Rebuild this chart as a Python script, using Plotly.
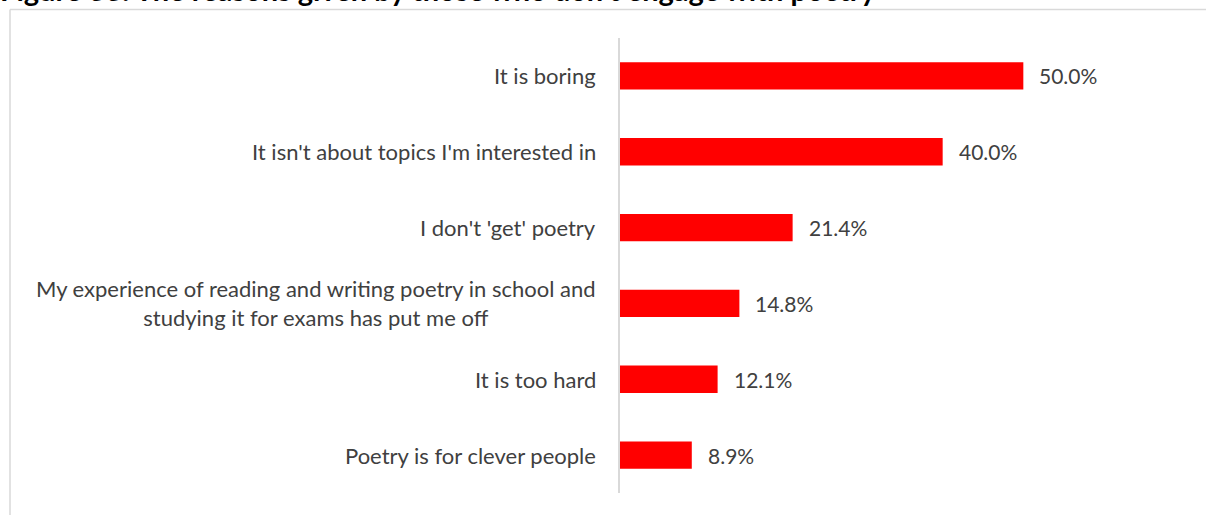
import plotly.graph_objects as go

# Survey data: reasons for not engaging with poetry (% of respondents)
reasons = [
    "It is boring",
    "It isn't about topics I'm interested in",
    "I don't 'get' poetry",
    "My experience of reading and writing poetry in school and<br>studying it for exams has put me off",
    "It is too hard",
    "Poetry is for clever people",
]
shares = [50.0, 40.0, 21.4, 14.8, 12.1, 8.9]
title_text = "Figure 33: The reasons given by those who don't engage with poetry"

W, H = 1206, 515
ML, MR, MT, MB = 620, 102, 38, 22
FONT = "Lato, 'Open Sans', sans-serif"
TEXT_COLOR = "#404040"
GRID = "#d9d9d9"

fig = go.Figure(
    go.Bar(
        x=shares,
        y=reasons,
        orientation="h",
        marker=dict(color="#ff0000", line=dict(width=0)),
        hoverinfo="skip",
    )
)

annotations = []
# category labels, right-aligned against the axis, multi-line centred
for r in reasons:
    annotations.append(dict(
        x=0, xref="paper", y=r, yref="y",
        text=r, showarrow=False, xanchor="right", yanchor="middle",
        align="center", xshift=-22,
        font=dict(family=FONT, size=22, color=TEXT_COLOR),
    ))
# value labels beyond each bar end
for r, v in zip(reasons, shares):
    annotations.append(dict(
        x=v, xref="x", y=r, yref="y",
        text=f"{v:.1f}%", showarrow=False, xanchor="left", yanchor="middle",
        xshift=14,
        font=dict(family=FONT, size=21, color=TEXT_COLOR),
    ))

plot_w = W - ML - MR
plot_h = H - MT - MB

def px_x(px):
    return (px - ML) / plot_w

def px_y(py):
    return (H - MB - py) / plot_h

# heading, partly running off the top edge
annotations.append(dict(
    x=px_x(-2), xref="paper", y=px_y(9), yref="paper",
    text=f"<b>{title_text}</b>", showarrow=False,
    xanchor="left", yanchor="bottom",
    font=dict(family=FONT, size=29, color="#000000"),
))

shapes = [
    # chart frame: top and left edges
    dict(type="line", xref="paper", yref="paper",
         x0=px_x(10), x1=px_x(1206), y0=px_y(9.5), y1=px_y(9.5),
         line=dict(color=GRID, width=1.5)),
    dict(type="line", xref="paper", yref="paper",
         x0=px_x(10), x1=px_x(10), y0=px_y(9.5), y1=px_y(520),
         line=dict(color=GRID, width=1.5)),
]

fig.update_layout(
    width=W, height=H,
    margin=dict(l=ML, r=MR, t=MT, b=MB, pad=0),
    paper_bgcolor="white", plot_bgcolor="white",
    bargap=0.64,
    showlegend=False,
    xaxis=dict(range=[0, 60], visible=False, fixedrange=True),
    yaxis=dict(autorange="reversed", showticklabels=False, ticks="",
               showgrid=False, zeroline=False,
               showline=True, linecolor=GRID, linewidth=2, fixedrange=True),
    annotations=annotations,
    shapes=shapes,
)

fig.write_html("out.html", config={"displayModeBar": False})
